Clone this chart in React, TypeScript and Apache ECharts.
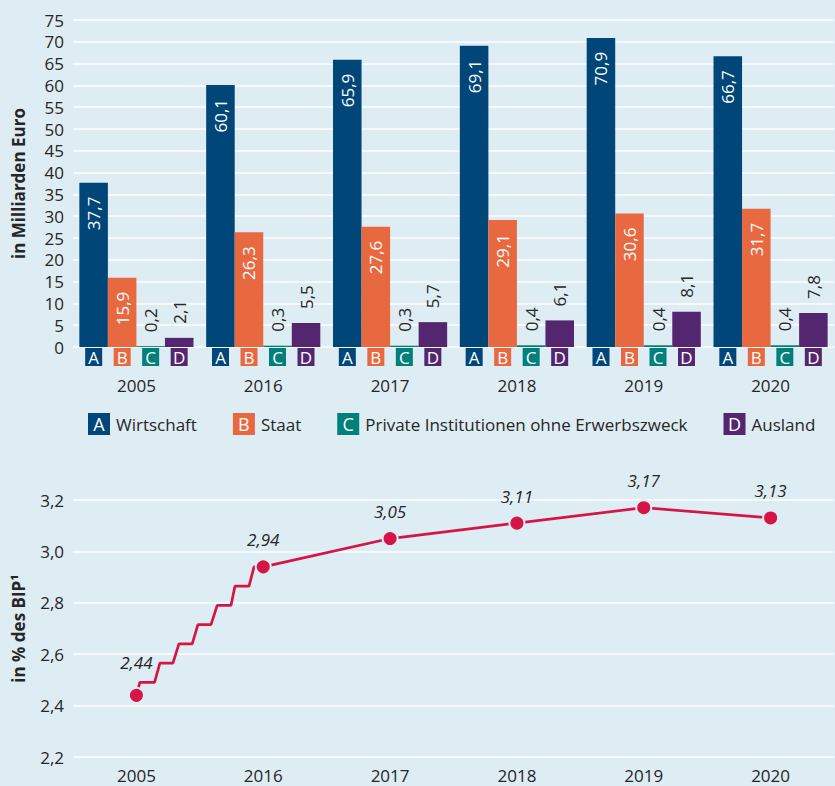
import React, { useEffect, useRef } from "react";
import * as echarts from "echarts";

const years = ["2005", "2016", "2017", "2018", "2019", "2020"];
const seriesNames = ["Wirtschaft", "Staat", "Private Institutionen ohne Erwerbszweck", "Ausland"];
const seriesLetters = ["A", "B", "C", "D"];
const wirtschaft = [37.7, 60.1, 65.9, 69.1, 70.9, 66.7];
const staat = [15.9, 26.3, 27.6, 29.1, 30.6, 31.7];
const privat = [0.2, 0.3, 0.3, 0.4, 0.4, 0.4];
const ausland = [2.1, 5.5, 5.7, 6.1, 8.1, 7.8];
const bipValues = [2.44, 2.94, 3.05, 3.11, 3.17, 3.13];
// stylised axis-break ladder between 2005 (index 0) and 2016 (index 1)
const breakSteps: [number, number][] = [
  [0, 2.44], [0.027, 2.49], [0.143, 2.49], [0.185, 2.565], [0.288, 2.565],
  [0.335, 2.64], [0.44, 2.64], [0.485, 2.715], [0.588, 2.715], [0.637, 2.79],
  [0.746, 2.79], [0.777, 2.865], [0.888, 2.865], [0.927, 2.94], [1, 2.94],
];

const COLORS = ["#004678", "#e86840", "#00807a", "#552670"];
const BG = "#deecf3";
const LINE = "#d71446";
const TEXT = "#262626";
const FONT = "'Open Sans', sans-serif";

const comma = (v: number, d: number) => v.toFixed(d).replace(".", ",");

export default function App() {
  const ref = useRef<HTMLDivElement>(null);
  useEffect(() => {
    if (!ref.current) return;
    const chart = echarts.init(ref.current, undefined, { renderer: "svg" });
    const barData = [wirtschaft, staat, privat, ausland];

    const boxRich: any = {};
    seriesLetters.forEach((l, i) => {
      boxRich[l] = {
        backgroundColor: COLORS[i], color: "#fff", width: 17, height: 18, lineHeight: 18,
        align: "center", fontSize: 17, fontFamily: FONT,
      };
    });
    boxRich.s = { width: 11.5, align: "center", fontSize: 10 };
    boxRich.y = { lineHeight: 38, fontSize: 17, color: TEXT, align: "center", fontFamily: FONT };

    const legendRich: any = {};
    seriesLetters.forEach((l, i) => {
      legendRich[l] = {
        backgroundColor: COLORS[i], color: "#fff", width: 22, height: 22, lineHeight: 22,
        align: "center", fontSize: 18, fontFamily: FONT,
      };
    });
    legendRich.n = { padding: [0, 0, 0, 6], fontSize: 17, color: TEXT, fontFamily: FONT };

    const barSeries = seriesNames.map((name, i) => {
      const inside = i < 2;
      return {
        name,
        type: "bar",
        xAxisIndex: 0,
        yAxisIndex: 0,
        data: barData[i],
        barGap: "0%",
        barCategoryGap: "10%",
        itemStyle: { color: COLORS[i] },
        label: {
          show: true,
          position: inside ? "insideTop" : "top",
          distance: 14,
          rotate: 90,
          align: inside ? "right" : "left",
          verticalAlign: "middle",
          fontSize: 17,
          fontFamily: FONT,
          color: inside ? "#fff" : TEXT,
          formatter: (p: any) => comma(p.value, 1),
        },
      };
    });

    const lineData: [number, number][] = [
      ...breakSteps,
      ...bipValues.slice(2).map((v, k) => [k + 2, v] as [number, number]),
    ];

    chart.setOption({
      animation: false,
      backgroundColor: BG,
      textStyle: { fontFamily: FONT },
      grid: [
        { left: 73, right: 1, top: 20, height: 327, outerBoundsMode: "none", containLabel: false },
        { left: 73, right: 1, top: 500, height: 257, outerBoundsMode: "none", containLabel: false },
      ],
      legend: {
        data: seriesNames,
        left: 78,
        top: 408,
        icon: "none",
        itemWidth: 0,
        itemHeight: 22,
        itemGap: 31,
        formatter: (name: string) => {
          const l = seriesLetters[seriesNames.indexOf(name)];
          return `{${l}|${l}}{n|${name}}`;
        },
        textStyle: { rich: legendRich },
      },
      xAxis: [
        {
          type: "category",
          gridIndex: 0,
          data: years,
          axisLine: { show: false },
          axisTick: { show: false },
          axisLabel: {
            interval: 0,
            hideOverlap: false,
            margin: 1,
            formatter: (v: string) => `{A|A}{s| }{B|B}{s| }{C|C}{s| }{D|D}\n{y|${v}}`,
            rich: boxRich,
          },
        },
        {
          type: "category",
          gridIndex: 1,
          data: years,
          axisLine: { show: false },
          axisTick: { show: false },
          axisLabel: { interval: 0, margin: 10, fontSize: 17, color: TEXT, fontFamily: FONT },
        },
        { type: "value", gridIndex: 1, min: -0.5, max: 5.5, show: false },
      ],
      yAxis: [
        {
          type: "value",
          gridIndex: 0,
          min: 0,
          max: 75,
          interval: 5,
          name: "in Milliarden Euro",
          nameLocation: "middle",
          nameGap: 46,
          nameRotate: 90,
          nameTextStyle: { fontWeight: "bold", fontSize: 17, color: TEXT, fontFamily: FONT },
          axisLine: { show: false },
          axisTick: { show: false },
          axisLabel: { fontSize: 17, color: TEXT, margin: 9, fontFamily: FONT },
          splitLine: { lineStyle: { color: "#fff", width: 1.5 } },
        },
        {
          type: "value",
          gridIndex: 1,
          min: 2.2,
          max: 3.2,
          interval: 0.2,
          name: "in % des BIP¹",
          nameLocation: "middle",
          nameGap: 46,
          nameRotate: 90,
          nameTextStyle: { fontWeight: "bold", fontSize: 17, color: TEXT, fontFamily: FONT },
          axisLine: { show: false },
          axisTick: { show: false },
          axisLabel: {
            fontSize: 17, color: TEXT, margin: 9, fontFamily: FONT,
            formatter: (v: number) => comma(v, 1),
          },
          splitLine: { lineStyle: { color: "#fff", width: 1.5 } },
        },
      ],
      series: [
        ...barSeries,
        {
          name: "bip-line",
          type: "line",
          xAxisIndex: 2,
          yAxisIndex: 1,
          data: lineData,
          showSymbol: false,
          symbol: "none",
          lineStyle: { color: LINE, width: 2.7 },
          z: 2,
        },
        {
          name: "bip-points",
          type: "scatter",
          xAxisIndex: 2,
          yAxisIndex: 1,
          data: bipValues.map((v, i) => ({
            value: [i, v],
            label: { distance: i === 0 ? 16 : 10 },
          })),
          symbolSize: 15,
          itemStyle: { color: LINE, borderColor: BG, borderWidth: 2, opacity: 1 },
          label: {
            show: true,
            position: "top",
            fontStyle: "italic",
            fontSize: 17,
            color: TEXT,
            fontFamily: FONT,
            formatter: (p: any) => comma(p.value[1], 2),
          },
          z: 3,
        },
      ],
    });
    return () => chart.dispose();
  }, []);
  return (
    <div
      ref={ref}
      style={{ position: "absolute", left: 0, top: 0, width: 835, height: 786 }}
    />
  );
}
